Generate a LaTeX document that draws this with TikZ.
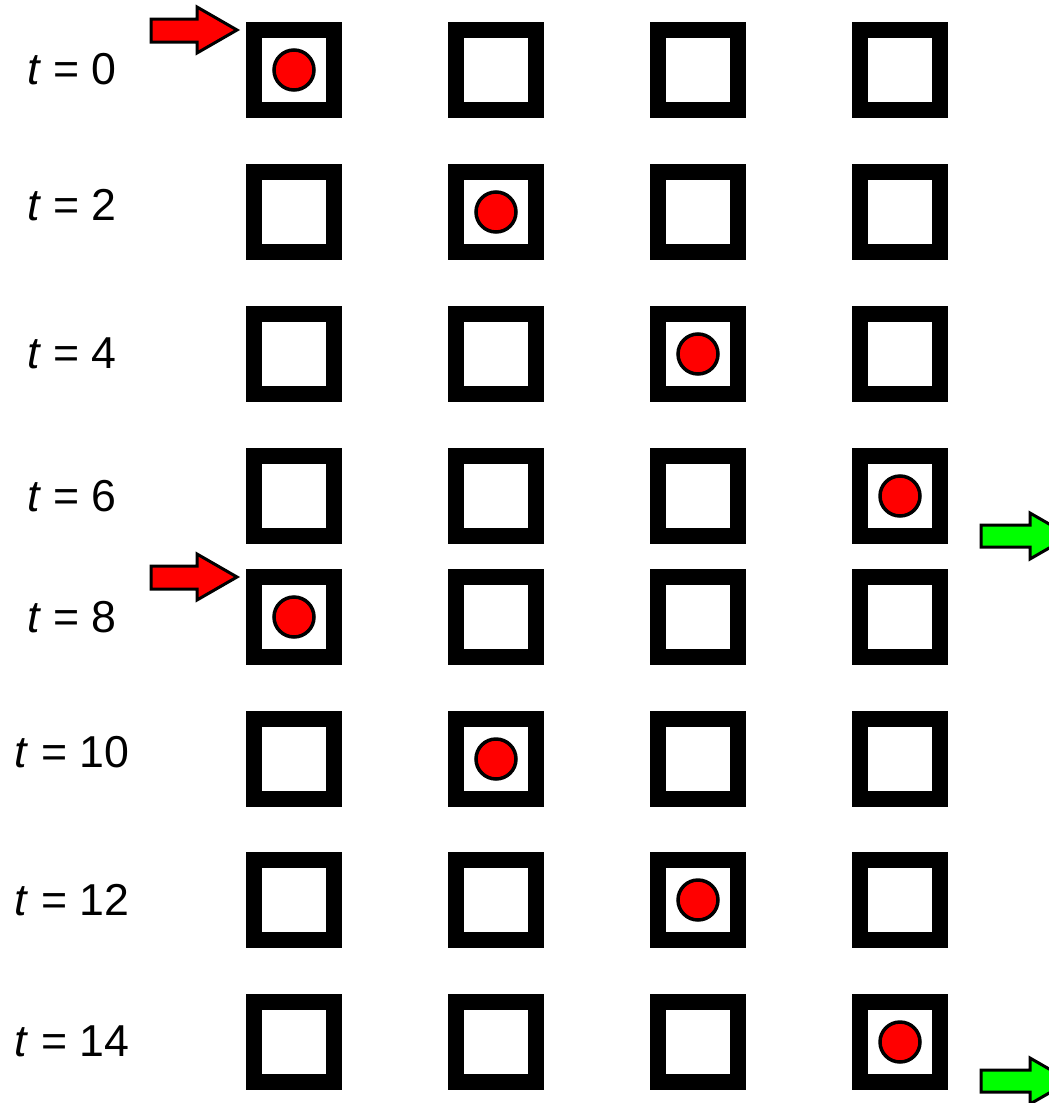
\documentclass[tikz,border=0pt]{standalone}
\usepackage{fontspec}
\setmainfont{Liberation Sans}
\begin{document}
\begin{tikzpicture}[x=1pt,y=-1pt,
  cell/.style={draw=black,line width=16pt,minimum size=80pt,inner sep=0pt,fill=white},
  ball/.style={circle,draw=black,line width=3.5pt,fill=red,minimum size=40pt,inner sep=0pt},
  lbl/.style={font=\fontsize{44.7}{50}\selectfont,inner sep=0pt,anchor=center},
  redarrow/.style={draw=black,line width=3pt,fill=red,miter limit=10},
  greenarrow/.style={draw=black,line width=3pt,fill=green,miter limit=10}]
\useasboundingbox (0,0) rectangle (1049,1103);
\clip (0,0) rectangle (1049,1103);
\foreach \r/\y/\ly/\t/\c in {1/70/69/0/1, 2/212/205/2/2, 3/354/353/4/3, 4/496/496/6/4, 5/617/617/8/1, 6/759/752/10/2, 7/900/900/12/3, 8/1042/1041/14/4} {
  \node[lbl] (L\r) at (72,\ly) {\textit{t} = \t};
  \foreach \col/\x in {1/294, 2/496, 3/698, 4/900} {
    \node[cell] (B\r-\col) at (\x,\y) {};
  }
  \node[ball] (D\r) at (B\r-\c) {};
}
% red input arrows
\draw[redarrow] (151,19) -- (197,19) -- (197,7) -- (237,30) -- (197,53) -- (197,42) -- (151,42) -- cycle;
\draw[redarrow] (151,566) -- (197,566) -- (197,554) -- (237,577) -- (197,600) -- (197,589) -- (151,589) -- cycle;
% green output arrows
\draw[greenarrow] (981,525) -- (1030,525) -- (1030,513) -- (1070,536) -- (1030,559) -- (1030,547) -- (981,547) -- cycle;
\draw[greenarrow] (981,1070) -- (1030,1070) -- (1030,1058) -- (1070,1081) -- (1030,1104) -- (1030,1092) -- (981,1092) -- cycle;
\end{tikzpicture}
\end{document}
